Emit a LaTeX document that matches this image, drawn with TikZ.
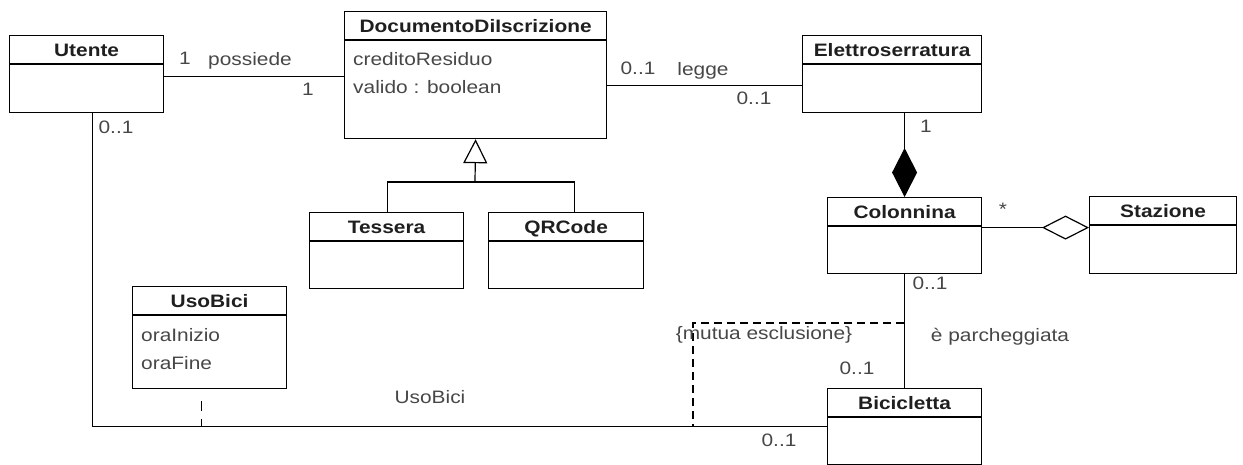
\documentclass[tikz,border=0pt]{standalone}
\usepackage{fontspec}
\setmainfont{Liberation Sans}[FakeStretch=1.16]
\usetikzlibrary{arrows.meta,positioning}

\tikzset{
  classbox/.style={draw, line width=1.2pt, rectangle, inner sep=0pt, anchor=north west},
  classname/.style={font=\fontsize{18}{20}\selectfont\bfseries, text=black!88, anchor=base, inner sep=0pt},
  attr/.style={font=\fontsize{18}{20}\selectfont, text=black!72, anchor=base west, inner sep=0pt},
  lbl/.style={font=\fontsize{18}{20}\selectfont, text=black!72, inner sep=0pt},
  assoc/.style={line width=1.2pt},
  constraint/.style={line width=1.2pt, dash pattern=on 8pt off 5pt},
}

% class box: name, left, top, width, height, title
\newcommand{\umlclass}[6]{%
  \node[classbox, minimum width=#4pt, minimum height=#5pt] (#1) at (#2,#3) {};
  \draw[line width=1.2pt] ([yshift=-29pt]#1.north west) -- ([yshift=-29pt]#1.north east);
  \node[classname] (#1-name) at ([yshift=-21.5pt]#1.north) {#6};
}

\begin{document}
\begin{tikzpicture}[x=1pt,y=-1pt]
        \useasboundingbox (0,0) rectangle (1243,464);

        % classes
        \umlclass{utente}{9}{35}{154}{77}{Utente}
        \umlclass{docu}{344}{11}{262}{127}{DocumentoDiIscrizione}
        \umlclass{elettro}{802}{35}{179}{77}{Elettroserratura}
        \umlclass{tessera}{309}{212}{154}{76}{Tessera}
        \umlclass{qrcode}{488}{212}{155}{76}{QRCode}
        \umlclass{colonnina}{827}{197}{154}{76}{Colonnina}
        \umlclass{stazione}{1089}{196}{147}{77}{Stazione}
        \umlclass{usobici}{132}{286}{154}{102}{UsoBici}
        \umlclass{bici}{827}{388}{154}{76}{Bicicletta}

        % attributes
        \node[attr] (docu-a1) at ([xshift=9pt,yshift=-54pt]docu.north west) {creditoResiduo};
        \node[attr] (docu-a2) at ([xshift=9pt,yshift=-82pt]docu.north west) {valido : boolean};
        \node[attr] (usobici-a1) at ([xshift=9pt,yshift=-55.5pt]usobici.north west) {oraInizio};
        \node[attr] (usobici-a2) at ([xshift=9pt,yshift=-83.5pt]usobici.north west) {oraFine};

        % associations
        \draw[assoc] ([yshift=-2.5pt]utente.east) -- ([yshift=-2.5pt]utente.east -| docu.west); % possiede
        \draw[assoc] ([yshift=-11.5pt]elettro.west -| docu.east) -- ([yshift=-11.5pt]elettro.west); % legge
        \draw[assoc] ([xshift=6pt]utente.south) |- (bici.west); % uso bici
        \draw[assoc] (colonnina.south) -- (bici.north); % parcheggiata

        % generalization
        \coordinate (genjoin) at (475,182);
        \draw[assoc,-{Triangle[open,width=24pt,length=24pt]}] (genjoin) -- (docu.south);
        \draw[assoc] ([xshift=1pt]tessera.north) |- (genjoin) -| ([xshift=8.5pt]qrcode.north);

        % composition and aggregation
        \draw[assoc,{Diamond[width=25pt,length=49pt]}-] (colonnina.north) -- (colonnina.north |- elettro.south);
        \draw[assoc,-{Diamond[open,width=24pt,length=47pt]}] ([yshift=8pt]colonnina.east) -- ([yshift=8pt]colonnina.east -| stazione.west);

        % association class and constraint
        \draw[assoc,dash pattern=on 0pt off 12pt on 10pt off 8pt on 10pt] ([xshift=-8pt]usobici.south) -- ([xshift=-8pt]usobici.south |- bici.west);
        \coordinate (excl) at (904,323);
        \coordinate (exclend) at (693,425.5);
        \draw[constraint] (excl) -| (exclend);

        % texts and notes
        \node[lbl] (m-ut1) at (185,58) {1};
        \node[lbl] (l-possiede) at (250,61) {possiede};
        \node[lbl] (m-doc1) at (308,89) {1};
        \node[lbl] (m-doc2) at (638,68) {0..1};
        \node[lbl] (l-legge) at (703,71) {legge};
        \node[lbl] (m-el1) at (754,98) {0..1};
        \node[lbl] (m-el2) at (926,126) {1};
        \node[lbl] (m-col1) at (1003,209) {*};
        \node[lbl] (m-col2) at (930,283) {0..1};
        \node[lbl] (l-parch) at (1000,337) {è parcheggiata};
        \node[lbl] (l-excl) at (764,335) {\{mutua esclusione\}};
        \node[lbl] (m-bici1) at (857,368) {0..1};
        \node[lbl] (m-ut2) at (116,127) {0..1};
        \node[lbl] (m-bici2) at (779,440) {0..1};
        \node[lbl] (l-usobici) at (430,397) {UsoBici};
\end{tikzpicture}
\end{document}
